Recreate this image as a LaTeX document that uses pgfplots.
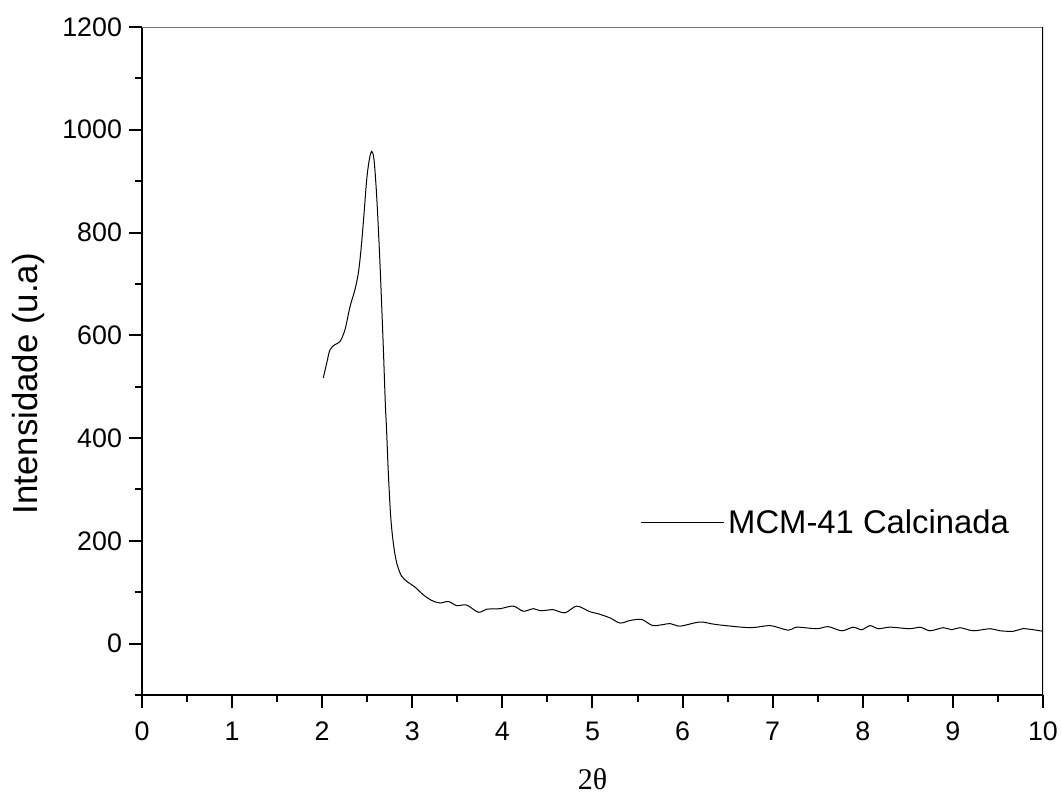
\documentclass[border=0pt]{standalone}
\usepackage{fontspec}
\setmainfont{Liberation Sans}
\newfontfamily\timesfont{Liberation Serif}
\usepackage{pgfplots}
\pgfplotsset{compat=1.18}

\begin{document}
\begin{tikzpicture}
\begin{axis}[
  scale only axis, width=450.5pt, height=334pt,
  xmin=0, xmax=10, ymin=-100, ymax=1200,
  axis x line*=bottom, axis y line*=left,
  axis line style={line width=1pt, -},
  xtick={0,1,...,10}, ytick={0,200,...,1200},
  minor xtick={0.5,1.5,...,9.5}, minor ytick={-100,100,...,1100},
  tick align=outside, major tick length=6.5pt, minor tick length=3.5pt,
  tick style={line width=1pt, black},
  /pgf/number format/assume math mode=true,
  /pgf/number format/1000 sep={},
  ticklabel style={font=\fontsize{13.4}{15}\selectfont},
  xticklabel style={yshift=-3.5pt},
  xlabel={\timesfont 2θ},
  ylabel={Intensidade (u.a)},
  every axis x label/.style={at={(axis description cs:0.5,0)}, yshift=-42pt, anchor=center, font=\fontsize{15}{17}\selectfont},
  every axis y label/.style={at={(axis description cs:0,0.466)}, xshift=-57pt, rotate=90, anchor=center, font=\fontsize{17.4}{19}\selectfont},
  legend style={draw=none, fill=none, at={(rel axis cs:0.5525,0.2575)}, anchor=west, inner sep=0pt, font=\fontsize{16.4}{18}\selectfont},
  legend cell align=left,
  legend image code/.code={\draw[#1] (0pt,0pt) -- (41.5pt,0pt);},
]
\addplot[black, line width=0.5pt, smooth, tension=0.5] coordinates {
(2.012,517) (2.05,546) (2.087,572) (2.142,582) (2.198,588) (2.253,611)
(2.309,656) (2.364,689) (2.401,721) (2.427,760) (2.456,818) (2.494,903)
(2.523,942) (2.549,958) (2.575,942) (2.605,870) (2.641,741) (2.678,578)
(2.700,470) (2.716,410) (2.734,332) (2.760,248) (2.789,196) (2.827,157)
(2.882,131) (2.956,119) (3.030,110) (3.122,95) (3.215,84) (3.307,79)
(3.400,82) (3.493,74) (3.604,75) (3.733,61) (3.826,67) (3.973,68)
(4.121,73) (4.232,63) (4.343,68) (4.417,64) (4.492,65) (4.565,66)
(4.695,60) (4.825,73) (4.972,62) (5.065,58) (5.195,50) (5.306,40)
(5.416,45) (5.546,47) (5.675,35) (5.860,39) (5.971,34) (6.193,42)
(6.378,37) (6.749,31) (6.971,35) (7.174,26) (7.267,32) (7.489,29)
(7.617,33) (7.766,25) (7.894,32) (7.988,27) (8.080,35) (8.172,29)
(8.302,32) (8.524,29) (8.635,32) (8.746,25) (8.893,31) (8.986,27)
(9.079,31) (9.227,25) (9.412,29) (9.523,25) (9.671,24) (9.773,29)
(9.893,27) (10.0,24)
};
\addlegendentry{MCM-41 Calcinada}
\draw[black!55, line width=0.6pt] (rel axis cs:0,1) -- (rel axis cs:1,1);
\draw[black, line width=0.6pt] (rel axis cs:1,1) -- (rel axis cs:1,0);
\draw[black, line width=1pt] (rel axis cs:0,0) -- ++(-3pt,0pt);
\end{axis}
\pgfresetboundingbox
\path (current axis.south west) ++(-71pt,-49.5pt) rectangle ++(531pt,397pt);
\end{tikzpicture}
\end{document}
